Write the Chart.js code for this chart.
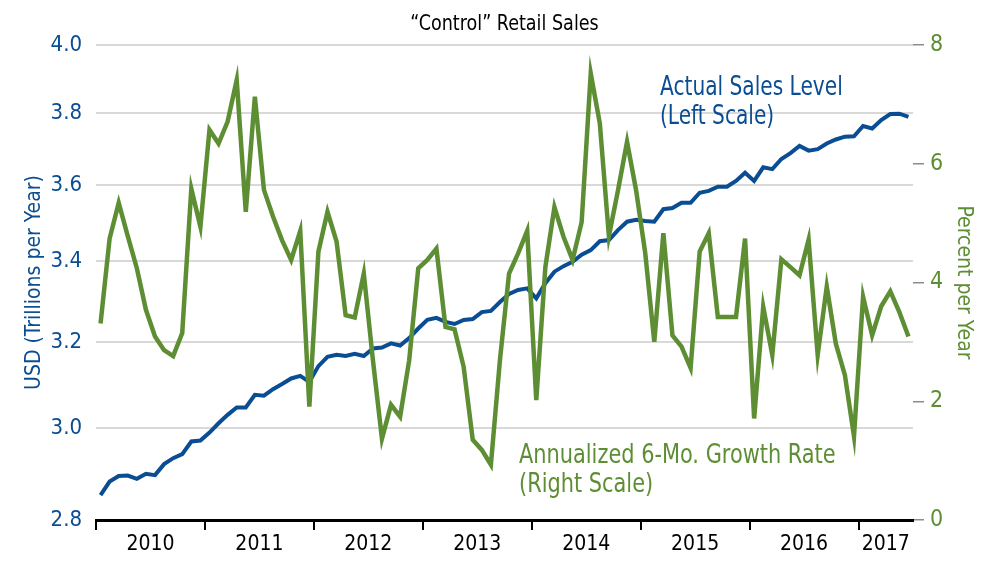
<!DOCTYPE html>
<html>
<head>
<meta charset="utf-8">
<script src="https://cdn.jsdelivr.net/npm/chart.js@4.4.1/dist/chart.umd.min.js"></script>
<style>
  html, body { margin: 0; padding: 0; background: #fff; }
  #wrap { width: 1000px; height: 567px; }
</style>
</head>
<body>
<div id="wrap"><canvas id="chartJSContainer" width="1000" height="567"></canvas></div>
<script>
// monthly observations, Jan 2010 .. Jun 2017
const months = [
  '2010-01','2010-02','2010-03','2010-04','2010-05','2010-06','2010-07','2010-08','2010-09','2010-10','2010-11','2010-12',
  '2011-01','2011-02','2011-03','2011-04','2011-05','2011-06','2011-07','2011-08','2011-09','2011-10','2011-11','2011-12',
  '2012-01','2012-02','2012-03','2012-04','2012-05','2012-06','2012-07','2012-08','2012-09','2012-10','2012-11','2012-12',
  '2013-01','2013-02','2013-03','2013-04','2013-05','2013-06','2013-07','2013-08','2013-09','2013-10','2013-11','2013-12',
  '2014-01','2014-02','2014-03','2014-04','2014-05','2014-06','2014-07','2014-08','2014-09','2014-10','2014-11','2014-12',
  '2015-01','2015-02','2015-03','2015-04','2015-05','2015-06','2015-07','2015-08','2015-09','2015-10','2015-11','2015-12',
  '2016-01','2016-02','2016-03','2016-04','2016-05','2016-06','2016-07','2016-08','2016-09','2016-10','2016-11','2016-12',
  '2017-01','2017-02','2017-03','2017-04','2017-05','2017-06'
];

// "control" retail sales, USD trillions per year (left, log scale)
const sales = [
  2.853, 2.882, 2.894, 2.895, 2.888, 2.899, 2.896, 2.920, 2.933, 2.942, 2.970, 2.972,
  2.990, 3.011, 3.030, 3.047, 3.047, 3.076, 3.074, 3.089, 3.101, 3.114, 3.120, 3.106,
  3.143, 3.165, 3.170, 3.167, 3.172, 3.167, 3.185, 3.187, 3.197, 3.192, 3.210, 3.233,
  3.254, 3.259, 3.249, 3.244, 3.254, 3.256, 3.273, 3.276, 3.298, 3.318, 3.328, 3.332,
  3.307, 3.345, 3.374, 3.388, 3.399, 3.417, 3.429, 3.452, 3.455, 3.481, 3.503, 3.508,
  3.505, 3.503, 3.536, 3.539, 3.553, 3.553, 3.580, 3.585, 3.596, 3.596, 3.612, 3.634,
  3.612, 3.649, 3.644, 3.672, 3.688, 3.708, 3.695, 3.699, 3.715, 3.726, 3.734, 3.735,
  3.764, 3.757, 3.781, 3.798, 3.799, 3.790
];

// annualized 6-month growth rate, percent (right scale)
const growth = [
  3.31, 4.74, 5.34, 4.78, 4.24, 3.54, 3.09, 2.86, 2.76, 3.15, 5.58, 4.94,
  6.57, 6.34, 6.71, 7.41, 5.19, 7.13, 5.56, 5.11, 4.71, 4.38, 4.87, 1.91,
  4.52, 5.19, 4.69, 3.45, 3.41, 4.15, 2.70, 1.37, 1.94, 1.74, 2.69, 4.24,
  4.38, 4.57, 3.25, 3.21, 2.58, 1.35, 1.18, 0.93, 2.70, 4.15, 4.49, 4.87,
  2.02, 4.26, 5.27, 4.77, 4.38, 5.02, 7.52, 6.68, 4.78, 5.55, 6.37, 5.55,
  4.50, 3.00, 4.83, 3.11, 2.92, 2.56, 4.52, 4.83, 3.42, 3.42, 3.42, 4.74,
  1.71, 3.59, 2.78, 4.39, 4.26, 4.12, 4.72, 2.78, 3.93, 2.97, 2.44, 1.41,
  3.76, 3.11, 3.60, 3.85, 3.50, 3.09
];

const yearLabels = ['2010', '2011', '2012', '2013', '2014', '2015', '2016', '2017'];
const leftTicks = [2.8, 3.0, 3.2, 3.4, 3.6, 3.8, 4.0];
const rightTicks = [0, 2, 4, 6, 8];

const titleText = '\u201CControl\u201D Retail Sales';
const salesNote = ['Actual Sales Level', '(Left Scale)'];
const growthNote = ['Annualized 6-Mo. Growth Rate', '(Right Scale)'];

const BLUE = '#0a4d93';
const GREEN = '#5e8e33';
const FONT = "'Liberation Sans Narrow', 'DejaVu Sans Condensed', 'Roboto', sans-serif";

// year boundaries (tick marks) and year centres (labels), from the month list
const yearStart = {}, yearMid = {};
yearLabels.forEach(y => {
  const idx = months.map((m, i) => m.startsWith(y) ? i : -1).filter(i => i >= 0);
  yearStart[idx[0]] = y;
  yearMid[(idx[0] + idx[idx.length - 1] + 1) / 2] = y;
});
const xTickVals = [...Object.keys(yearStart), ...Object.keys(yearMid)].map(Number).sort((a, b) => a - b);

const salesPts = sales.map((v, i) => ({ x: i + 0.5, y: v }));
const growthPts = growth.map((v, i) => ({ x: i + 0.5, y: v }));

// narrow text: draw with a horizontal squeeze
function narrowText(ctx, t, x, y, sx) {
  ctx.save();
  ctx.translate(x, y);
  ctx.scale(sx, 1);
  ctx.fillText(t, 0, 0);
  ctx.restore();
}

const textPlugin = {
  id: 'texts',
  afterDraw(chart) {
    const { ctx, chartArea } = chart;
    ctx.save();
    ctx.textBaseline = 'middle';
    ctx.textAlign = 'center';
    ctx.fillStyle = '#000';
    ctx.font = '21px ' + FONT;
    narrowText(ctx, titleText, (chartArea.left + chartArea.right) / 2, 25, 0.93);
    ctx.textAlign = 'left';
    ctx.font = '27px ' + FONT;
    ctx.fillStyle = BLUE;
    salesNote.forEach((t, k) => narrowText(ctx, t, 660, 88 + k * 29, 0.83));
    ctx.fillStyle = GREEN;
    growthNote.forEach((t, k) => narrowText(ctx, t, 519, 456 + k * 29, 0.86));
    ctx.restore();
  }
};

new Chart(document.getElementById('chartJSContainer').getContext('2d'), {
  type: 'line',
  data: {
    datasets: [
      { label: 'Annualized 6-Mo. Growth Rate', data: growthPts, yAxisID: 'y2', borderColor: GREEN,
        borderWidth: 4.5, pointRadius: 0, tension: 0, order: 0 },
      { label: 'Actual Sales Level', data: salesPts, yAxisID: 'y', borderColor: BLUE,
        borderWidth: 4, pointRadius: 0, tension: 0, order: 1 }
    ]
  },
  options: {
    responsive: false,
    animation: false,
    layout: { padding: { top: 45, left: 0, right: 0, bottom: 0 } },
    plugins: { legend: { display: false }, tooltip: { enabled: false } },
    scales: {
      x: {
        type: 'linear', position: 'bottom', min: 0, max: months.length,
        afterBuildTicks: s => { s.ticks = xTickVals.map(v => ({ value: v })); },
        afterFit: s => { s.height = 47; },
        border: { display: true, color: '#000', width: 3 },
        grid: {
          drawOnChartArea: false, tickLength: 10, lineWidth: 2,
          color: c => (c.tick && yearStart[c.tick.value] !== undefined) ? '#000' : 'rgba(0,0,0,0)'
        },
        ticks: {
          autoSkip: false, maxRotation: 0, padding: 2, color: '#000',
          font: { family: FONT, size: 21 },
          callback: v => yearMid[v] || ''
        }
      },
      y: {
        type: 'logarithmic', position: 'left', min: 2.8, max: 4.0,
        afterBuildTicks: s => { s.ticks = leftTicks.map(v => ({ value: v })); },
        afterFit: s => { s.width = 96; },
        border: { display: false },
        grid: { color: '#d9d9d9', lineWidth: 2, drawTicks: false },
        ticks: { color: BLUE, padding: 14, font: { family: FONT, size: 22 }, callback: v => Number(v).toFixed(1) },
        title: { display: true, text: 'USD (Trillions per Year)', color: BLUE,
                 font: { family: FONT, size: 21 }, padding: { top: 22, bottom: 0 } }
      },
      y2: {
        type: 'linear', position: 'right', min: 0, max: 8,
        afterBuildTicks: s => { s.ticks = rightTicks.map(v => ({ value: v })); },
        afterFit: s => { s.width = 87; },
        border: { display: false },
        grid: { drawOnChartArea: false, color: '#8c8c8c', lineWidth: 1.5, tickLength: 11 },
        ticks: { color: GREEN, padding: 6, font: { family: FONT, size: 23 } },
        title: { display: true, text: 'Percent per Year', color: GREEN,
                 font: { family: FONT, size: 21 }, padding: { top: 24, bottom: 0 } }
      }
    }
  },
  plugins: [textPlugin]
});
</script>
</body>
</html>
